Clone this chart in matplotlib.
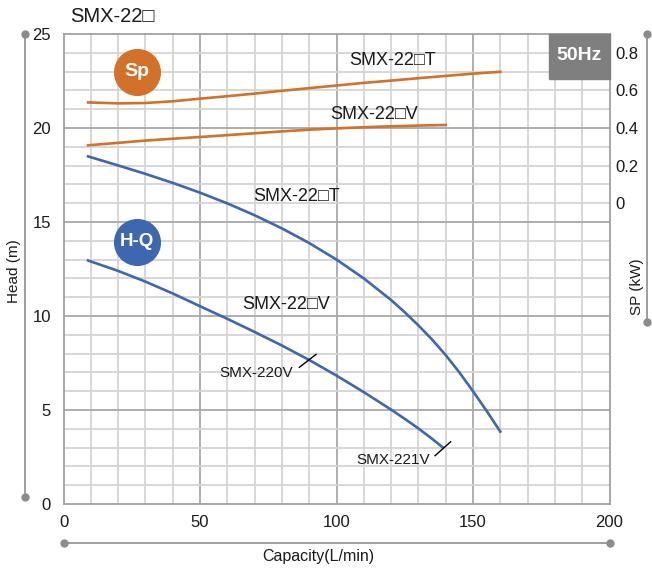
import matplotlib
matplotlib.use("Agg")
import matplotlib.pyplot as plt
from matplotlib.lines import Line2D

plt.rcParams['font.family'] = ['Liberation Sans', 'DejaVu Sans']

# ---------------- data ----------------
flow_hq_t = [9, 20, 30, 40, 50, 60, 70, 80, 90, 100, 110, 120, 125, 130, 135, 140, 145, 150, 155, 160]
head_t = [18.49, 18.01, 17.56, 17.08, 16.56, 15.99, 15.36, 14.66, 13.88, 13.0, 12.0, 10.85, 10.2, 9.5, 8.75,
          7.92, 7.0, 6.0, 4.95, 3.85]

flow_hq_v = [9, 20, 30, 40, 50, 60, 70, 80, 90, 100, 110, 120, 125, 130, 135, 139]
head_v = [12.95, 12.4, 11.83, 11.2, 10.52, 9.85, 9.15, 8.43, 7.66, 6.83, 5.95, 5.02, 4.53, 4.02, 3.47, 3.0]

flow_sp_t = [9, 20, 30, 40, 50, 60, 70, 80, 90, 100, 110, 120, 130, 140, 150, 160]
sp_t = [0.536, 0.531, 0.533, 0.542, 0.556, 0.569, 0.583, 0.598, 0.612, 0.626, 0.640, 0.652, 0.665, 0.677, 0.689, 0.699]

flow_sp_v = [9, 20, 30, 40, 50, 60, 70, 80, 90, 100, 110, 120, 130, 140]
sp_v = [0.308, 0.321, 0.333, 0.343, 0.352, 0.362, 0.372, 0.382, 0.391, 0.398, 0.404, 0.409, 0.413, 0.416]

x_ticks = [0, 50, 100, 150, 200]
y_ticks = [0, 5, 10, 15, 20, 25]
sp_ticks = [0, 0.2, 0.4, 0.6, 0.8]
sp_tick_labels = ['0', '0.2', '0.4', '0.6', '0.8']

title = "SMX-22\u25a1"
curve_labels = ["SMX-22\u25a1T", "SMX-22\u25a1V", "SMX-22\u25a1T", "SMX-22\u25a1V"]
model_labels = ["SMX-220V", "SMX-221V"]

# ---------------- style ----------------
W, H = 652, 570
ORANGE = '#D2712A'
BLUE = '#3D67AF'
GRID_MINOR = '#d4d4d4'
GRID_MAJOR = '#a8a8a8'
AX_GRAY = '#8c8c8c'
TXT = '#1a1a1a'

fig = plt.figure(figsize=(W / 100, H / 100), dpi=100)
L, R, T, B = 63.5, 609.5, 34, 504
ax = fig.add_axes([L / W, 1 - B / H, (R - L) / W, (B - T) / H])
ax.set_xlim(0, 200)
ax.set_ylim(0, 25)

# grid
for xv in range(10, 200, 10):
    ax.axvline(xv, color=GRID_MAJOR if xv % 50 == 0 else GRID_MINOR, lw=1.3, zorder=0)
for yv in range(1, 25):
    ax.axhline(yv, color=GRID_MAJOR if yv % 5 == 0 else GRID_MINOR, lw=1.3, zorder=0)
for s in ax.spines.values():
    s.set_color('#a0a0a0')
    s.set_linewidth(1.3)

ax.set_xticks(x_ticks)
ax.set_yticks(y_ticks)
ax.tick_params(length=0, labelsize=12, colors=TXT, pad=8)
ax.tick_params(axis='y', pad=9)

# H-Q curves
ax.plot(flow_hq_t, head_t, color=BLUE, lw=1.9, zorder=3, solid_joinstyle='round')
ax.plot(flow_hq_v, head_v, color=BLUE, lw=1.9, zorder=3, solid_joinstyle='round')

# SP axis
ax2 = ax.twinx()
ax2.set_ylim((0 - 16) / 10, (25 - 16) / 10)
ax2.set_yticks(sp_ticks)
ax2.set_yticklabels(sp_tick_labels)
ax2.tick_params(length=0, labelsize=12, colors=TXT, pad=4)
for s in ax2.spines.values():
    s.set_visible(False)
ax2.plot(flow_sp_t, sp_t, color=ORANGE, lw=1.9, zorder=3, solid_joinstyle='round')
ax2.plot(flow_sp_v, sp_v, color=ORANGE, lw=1.9, zorder=3, solid_joinstyle='round')

# curve labels
lab_fs = 13
ax.text(120.7, 23.6, curve_labels[0], ha='center', va='center', fontsize=lab_fs, color=TXT)
ax.text(113.7, 20.7, curve_labels[1], ha='center', va='center', fontsize=lab_fs, color=TXT)
ax.text(85.2, 16.35, curve_labels[2], ha='center', va='center', fontsize=lab_fs, color=TXT)
ax.text(81.6, 10.6, curve_labels[3], ha='center', va='center', fontsize=lab_fs, color=TXT)
ax.text(84.0, 6.95, model_labels[0], ha='right', va='center', fontsize=11, color=TXT)
ax.text(134.2, 2.34, model_labels[1], ha='right', va='center', fontsize=11, color=TXT)
ax.plot([86.4, 92.5], [7.27, 7.96], color='black', lw=1.0, zorder=4)
ax.plot([136.1, 141.8], [2.57, 3.31], color='black', lw=1.0, zorder=4)

# badges
ax.scatter([26.9], [22.98], s=1150, color=ORANGE, zorder=5, linewidths=0)
ax.text(26.9, 22.98, "Sp", ha='center', va='center', fontsize=14, fontweight='bold', color='white', zorder=6)
ax.scatter([26.9], [13.95], s=1150, color=BLUE, zorder=5, linewidths=0)
ax.text(26.9, 13.95, "H-Q", ha='center', va='center', fontsize=13.5, fontweight='bold', color='white', zorder=6,
        family=['Liberation Sans Narrow', 'Liberation Sans'])

# 50Hz box
fig.patches.append(plt.Rectangle((549 / W, 1 - 79 / H), (609.5 - 549) / W, (79 - 34) / H,
                                 transform=fig.transFigure, color='#7f7f7f', zorder=5))
fig.text(579 / W, 1 - 56 / H, "50Hz", ha='center', va='center', fontsize=14, fontweight='bold', color='white', zorder=6)

# title
fig.text(70 / W, 1 - 17 / H, title, ha='left', va='center', fontsize=14.5, color=TXT)

# outer axis lines with dots
def fig_line(x0, y0, x1, y1):
    fig.add_artist(Line2D([x0 / W, x1 / W], [1 - y0 / H, 1 - y1 / H], transform=fig.transFigure,
                          color=AX_GRAY, lw=1.2, marker='o', markersize=6, markeredgewidth=0,
                          markerfacecolor=AX_GRAY))

fig_line(25, 34, 25, 497)
fig_line(64, 543, 610, 543)
fig_line(647, 34, 647, 322)

fig.text(14 / W, 1 - 271 / H, "Head (m)", rotation=90, ha='center', va='center', fontsize=11, color=TXT)
fig.text(318 / W, 1 - 557 / H, "Capacity(L/min)", ha='center', va='center', fontsize=11.5, color=TXT)
fig.text(637 / W, 1 - 287 / H, "SP (kW)", rotation=90, ha='center', va='center', fontsize=11, color=TXT)

fig.savefig("out.png", dpi=100)
